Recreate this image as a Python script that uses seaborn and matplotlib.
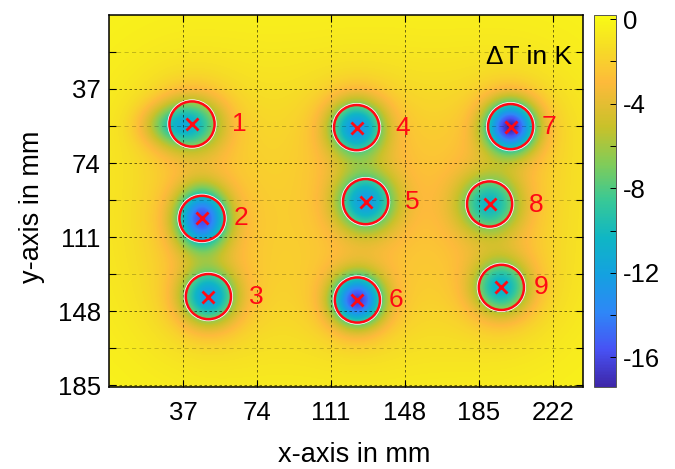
import numpy as np
import pandas as pd
import seaborn as sns
import matplotlib
matplotlib.use("Agg")
import matplotlib.pyplot as plt
from matplotlib.colors import LinearSegmentedColormap
from matplotlib.patches import Circle
from matplotlib.ticker import FixedLocator

plt.rcParams['font.family'] = ['Liberation Sans', 'DejaVu Sans']
plt.rcParams['axes.unicode_minus'] = False

# ---- data ----
spot_ids = ['1', '2', '3', '4', '5', '6', '7', '8', '9']
spot_x = [41.5, 46.5, 49.7, 123.8, 128.3, 124.2, 200.8, 190.3, 196.2]     # mm
spot_y = [54.5, 101.7, 140.8, 56.3, 93.3, 142.5, 55.8, 94.5, 136.2]       # mm
spot_min = [-11.0, -16.0, -12.5, -13.0, -12.5, -16.5, -17.4, -10.5, -11.0]  # K at centre
spot_sx = [10.5, 8.5, 9.0, 9.0, 9.5, 8.5, 8.5, 10.0, 9.0]                 # mm
spot_sy = [9.0, 10.0, 9.0, 9.0, 9.5, 8.5, 8.5, 9.5, 9.0]                  # mm
tail_x = [30.0]
tail_y = [55.0]
tail_depth = [3.5]
tail_sx = [10.0]
tail_sy = [7.0]
halo_depth = [2.0, 0.9]
halo_sigma = [15.0, 35.0]
base_level = -0.2

label_x = [65.0, 66.0, 73.5, 147.0, 151.5, 143.5, 220.0, 213.5, 216.0]
label_y = [54.5, 101.5, 141.0, 56.5, 93.5, 142.5, 56.0, 95.0, 136.0]

x_ticks = [37, 74, 111, 148, 185, 222]
y_ticks = [37, 74, 111, 148, 185]
y_minor = [18.5, 55.5, 92.5, 129.5, 166.5]
cbar_ticks = [0, -4, -8, -12, -16]
cbar_minor = [-2, -6, -10, -14]
vmin, vmax = -17.4, 0.2

width_mm, height_mm, res = 237.0, 186.0, 0.5
circle_r = 11.3


def background(px, py):
    val = np.full_like(np.asarray(px, dtype=float), base_level)
    for x0, y0 in zip(spot_x, spot_y):
        r2 = (px - x0) ** 2 + (py - y0) ** 2
        for hd, hs in zip(halo_depth, halo_sigma):
            val = val - hd * np.exp(-0.5 * r2 / hs ** 2)
    for x0, y0, a, sx, sy in zip(tail_x, tail_y, tail_depth, tail_sx, tail_sy):
        val = val - a * np.exp(-0.5 * (((px - x0) / sx) ** 2 + ((py - y0) / sy) ** 2))
    return val


# ---- field ----
xs = (np.arange(int(width_mm / res)) + 0.5) * res
ys = (np.arange(int(height_mm / res)) + 0.5) * res
X, Y = np.meshgrid(xs, ys)
F = background(X, Y)
for x0, y0, m, sx, sy in zip(spot_x, spot_y, spot_min, spot_sx, spot_sy):
    amp = float(background(np.array(x0), np.array(y0))) - m
    F -= amp * np.exp(-0.5 * (((X - x0) / sx) ** 2 + ((Y - y0) / sy) ** 2))
df = pd.DataFrame(F)

parula = LinearSegmentedColormap.from_list("parula", [
    (0.00, (0.2422, 0.1504, 0.6603)),
    (0.10, (0.2810, 0.3228, 0.9579)),
    (0.20, (0.1786, 0.5289, 0.9682)),
    (0.30, (0.0800, 0.6300, 0.8800)),
    (0.40, (0.0590, 0.7125, 0.7710)),
    (0.50, (0.2161, 0.7843, 0.5923)),
    (0.60, (0.5044, 0.7993, 0.3480)),
    (0.70, (0.7858, 0.7573, 0.1636)),
    (0.82, (0.9920, 0.7300, 0.2300)),
    (0.91, (0.9650, 0.8600, 0.1500)),
    (1.00, (0.9769, 0.9839, 0.0805)),
])

s = 1.0 / res  # data units per mm

fig = plt.figure(figsize=(6.75, 4.69), dpi=100)
ax = fig.add_axes([109 / 675, 82 / 469, 474 / 675, 372 / 469])
cax = fig.add_axes([594 / 675, 82 / 469, 22 / 675, 372 / 469])

sns.heatmap(df, ax=ax, cbar_ax=cax, cmap=parula, vmin=vmin, vmax=vmax,
            xticklabels=False, yticklabels=False, rasterized=True)

for sp in ax.spines.values():
    sp.set_visible(True)
    sp.set_linewidth(1.1)
    sp.set_color('black')

ax.set_xticks([v * s for v in x_ticks])
ax.set_xticklabels([str(v) for v in x_ticks])
ax.set_yticks([v * s for v in y_ticks])
ax.set_yticklabels([str(v) for v in y_ticks], rotation=0)
ax.yaxis.set_minor_locator(FixedLocator([v * s for v in y_minor]))
ax.tick_params(which='both', direction='in', top=True, right=True,
               length=5, width=0.8, labelsize=18.5)
ax.tick_params(axis='x', pad=10)
ax.tick_params(axis='y', pad=6)
ax.set_axisbelow(False)
ax.grid(which='major', color='black', linestyle=(0, (3, 3)), linewidth=0.6, alpha=0.65)
ax.grid(which='minor', axis='y', color='black', linestyle=(0, (5, 4)), linewidth=0.6, alpha=0.25)

ax.set_xlabel('x-axis in mm', fontsize=19.5)
ax.set_ylabel('y-axis in mm', fontsize=19.5)
ax.xaxis.set_label_coords(0.517, -0.148)
ax.yaxis.set_label_coords(-0.135, 0.484)

for x0, y0 in zip(spot_x, spot_y):
    ax.add_patch(Circle((x0 * s, y0 * s), (circle_r + 0.6) * s, fill=False,
                        ec='white', lw=1.2, zorder=4))
    ax.add_patch(Circle((x0 * s, y0 * s), circle_r * s, fill=False,
                        ec='#ff0a14', lw=1.8, zorder=5))
ax.plot([v * s for v in spot_x], [v * s for v in spot_y], linestyle='none',
        marker='x', color='#ff0a14', ms=9, mew=2, zorder=6)
for t, lx, ly in zip(spot_ids, label_x, label_y):
    ax.text(lx * s, ly * s, t, color='#ff0a14', fontsize=19, ha='center',
            va='center', zorder=6)

ax.text(231.5 * s, 21 * s, '\u0394T in K', fontsize=19, ha='right', va='center',
        color='black', zorder=6)

cb = ax.collections[0].colorbar
cb.outline.set_visible(True)
cb.outline.set_linewidth(0.7)
cb.outline.set_edgecolor('#555555')
cb.set_ticks(cbar_ticks)
cb.set_ticklabels([str(v) for v in cbar_ticks])
cax.yaxis.set_minor_locator(FixedLocator(cbar_minor))
cax.tick_params(which='both', direction='in', right=True, left=False,
                length=4, width=0.7, labelsize=18.5, pad=5)

fig.savefig('out.png', dpi=100)
